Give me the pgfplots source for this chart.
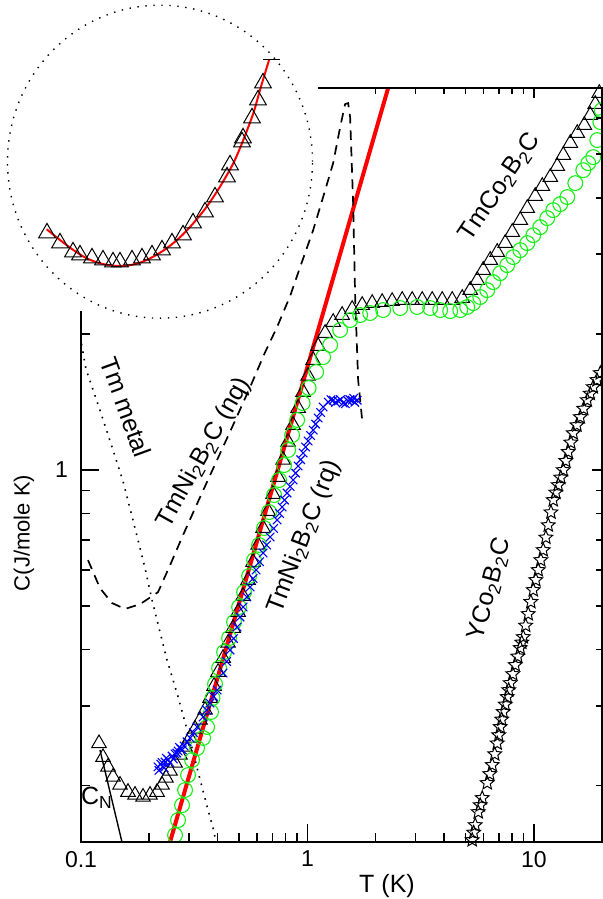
\documentclass[border=0pt]{standalone}
\usepackage{fontspec}
\setmainfont{Liberation Sans}
\usepackage{pgfplots}
\pgfplotsset{compat=1.18}
\definecolor{mygreen}{RGB}{20,240,20}
\pgfdeclareplotmark{ostar}{%
\pgfpathmoveto{\pgfpointpolar{90}{\pgfplotmarksize}}%
\pgfpathlineto{\pgfpointpolar{126}{0.45\pgfplotmarksize}}%
\pgfpathlineto{\pgfpointpolar{162}{\pgfplotmarksize}}%
\pgfpathlineto{\pgfpointpolar{198}{0.45\pgfplotmarksize}}%
\pgfpathlineto{\pgfpointpolar{234}{\pgfplotmarksize}}%
\pgfpathlineto{\pgfpointpolar{270}{0.45\pgfplotmarksize}}%
\pgfpathlineto{\pgfpointpolar{306}{\pgfplotmarksize}}%
\pgfpathlineto{\pgfpointpolar{342}{0.45\pgfplotmarksize}}%
\pgfpathlineto{\pgfpointpolar{18}{\pgfplotmarksize}}%
\pgfpathlineto{\pgfpointpolar{54}{0.45\pgfplotmarksize}}%
\pgfpathclose
\pgfusepathqstroke}
\begin{document}
\begin{tikzpicture}[font=\fontsize{12.5}{15}\selectfont]
% ---------- main axis with data ----------
\begin{axis}[at={(40.5pt,28.5pt)}, anchor=south west, scale only axis,
  width=260.5pt, height=377pt,
  xmode=log, ymode=log, xmin=0.1, xmax=20, ymin=0.15, ymax=7,
  xtick={0.1,1,10}, xticklabels={0.1,1,10},
  minor xtick={0.2,0.3,0.4,0.5,0.6,0.7,0.8,0.9,2,3,4,5,6,7,8,9},
  ytick={1}, yticklabels={1},
  minor ytick={0.2,0.3,0.4,0.5,0.6,0.7,0.8,0.9,2},
  xtick pos=left, ytick pos=left,
  major tick length=9pt, minor tick length=4.75pt,
  tick style={black, line width=0.8pt},
  axis line style={line width=0.9pt},
  tick label style={font=\fontsize{11.5}{14}\selectfont},
  xticklabel style={yshift=-1pt}, yticklabel style={xshift=-3pt},
  clip=true]
% TmCo2B2C triangles
\addplot[only marks, mark=triangle, mark size=4.2pt, mark options={black, line width=0.5pt}] coordinates {
(0.1201,0.248) (0.1251,0.231) (0.1316,0.220) (0.1385,0.209) (0.1487,0.2006) (0.1613,0.1935) (0.1732,0.1906) (0.1879,0.1887) (0.2018,0.1906) (0.2167,0.1935) (0.2280,0.2006) (0.2374,0.2079) (0.2474,0.2154) (0.2603,0.2244) (0.2738,0.2337) (0.2881,0.2435) (0.3032,0.2549) (0.3190,0.2668) (0.3357,0.2793) (0.3532,0.2939) (0.3716,0.3124) (0.3870,0.3321) (0.4031,0.3567) (0.4242,0.3831) (0.4463,0.4136) (0.4696,0.4463) (0.4941,0.4842) (0.5199,0.5253) (0.5470,0.5700) (0.5756,0.6248) (0.6056,0.6815) (0.6372,0.7430) (0.6705,0.8102) (0.7054,0.8834) (0.7422,0.9635) (0.7809,1.051) (0.8217,1.152) (0.8646,1.256) (0.9097,1.369) (0.9572,1.486) (1.007,1.613) (1.060,1.749) (1.115,1.878) (1.197,2.007) (1.299,2.123) (1.423,2.200) (1.576,2.268) (1.745,2.315) (1.932,2.338) (2.138,2.350) (2.367,2.362) (2.621,2.375) (2.901,2.375) (3.213,2.375) (3.557,2.375) (3.938,2.375) (4.359,2.375) (4.827,2.399) (5.236,2.498) (5.623,2.629) (5.976,2.767) (6.417,2.912) (6.890,3.033) (7.475,3.175) (8.027,3.358) (8.709,3.569) (9.352,3.793) (10.14,4.034) (10.90,4.245) (11.82,4.443) (12.69,4.699) (13.49,4.971) (14.49,5.286) (15.55,5.561) (16.71,5.793) (17.76,6.094) (18.68,6.446) (19.45,6.818)
};
% TmNi2B2C (nq) green circles
\addplot[only marks, mark=o, mark size=3.7pt, mark options={mygreen, line width=0.55pt}] coordinates {
(0.2603,0.1554) (0.2683,0.1677) (0.2795,0.1810) (0.2881,0.1955) (0.2971,0.2110) (0.3094,0.2278) (0.3256,0.2421) (0.3461,0.2549) (0.3604,0.2696) (0.3754,0.2910) (0.3811,0.3124) (0.3909,0.3356) (0.4072,0.3641) (0.4285,0.3950) (0.4508,0.4242) (0.4743,0.4602) (0.4991,0.4968) (0.5251,0.5361) (0.5526,0.5818) (0.5814,0.631) (0.6117,0.6815) (0.6437,0.7430) (0.6772,0.8061) (0.7125,0.8790) (0.7497,0.949) (0.7888,1.024) (0.8216,1.106) (0.8559,1.193) (0.9007,1.289) (0.9526,1.405) (1.013,1.517) (1.093,1.646) (1.173,1.776) (1.260,1.888) (1.395,2.038) (1.544,2.144) (1.710,2.200) (1.893,2.223) (2.160,2.257) (2.569,2.280) (3.053,2.292) (3.485,2.280) (3.859,2.257) (4.272,2.245) (4.730,2.257) (5.078,2.292) (5.397,2.338) (5.797,2.412) (6.225,2.498) (6.617,2.602) (7.104,2.724) (7.628,2.838) (8.110,2.956) (8.709,3.063) (9.352,3.175) (9.940,3.306) (10.67,3.444) (11.46,3.606) (12.18,3.756) (13.08,3.873) (14.05,4.014) (15.24,4.310) (16.53,4.604) (17.39,4.772) (18.30,4.921) (19.06,5.367) (19.66,5.883) (19.95,6.252)
};
% TmNi2B2C (rq) blue crosses
\addplot[only marks, mark=x, mark size=3pt, mark options={blue, line width=0.55pt}] coordinates {
(0.2189,0.220) (0.2210,0.2160) (0.2250,0.2230) (0.2280,0.2250) (0.2300,0.2200) (0.2330,0.2190) (0.2350,0.2255) (0.2380,0.2300) (0.2420,0.2280) (0.2470,0.2250) (0.2524,0.2325) (0.2560,0.2290) (0.2600,0.2350) (0.2650,0.2360) (0.2683,0.2385) (0.2720,0.2430) (0.2760,0.2410) (0.2800,0.2400) (0.2852,0.2447) (0.2940,0.2500) (0.3032,0.2549) (0.3140,0.2620) (0.3256,0.2696) (0.3461,0.2837) (0.3590,0.2940) (0.3716,0.3045) (0.3850,0.3150) (0.3990,0.3255) (0.4242,0.3549) (0.4395,0.3763) (0.4554,0.3990) (0.4720,0.4230) (0.4891,0.4485) (0.5043,0.4720) (0.5199,0.4968) (0.5400,0.5230) (0.5582,0.5501) (0.5755,0.5745) (0.5934,0.5999) (0.6150,0.6260) (0.6372,0.6541) (0.6603,0.6814) (0.6842,0.7098) (0.7091,0.7412) (0.7348,0.7740) (0.7537,0.8001) (0.7730,0.8270) (0.7929,0.8569) (0.8133,0.8879) (0.8386,0.918) (0.8646,0.949) (0.8869,0.983) (0.9097,1.019) (0.9332,1.053) (0.9572,1.089) (0.9818,1.123) (1.007,1.158) (1.033,1.191) (1.060,1.224) (1.087,1.262) (1.115,1.302) (1.144,1.339) (1.173,1.377) (1.235,1.412) (1.270,1.430) (1.299,1.426) (1.330,1.410) (1.367,1.419) (1.400,1.430) (1.438,1.405) (1.470,1.400) (1.513,1.419) (1.540,1.430) (1.576,1.426) (1.600,1.440) (1.620,1.410) (1.658,1.426)
};
% YCo2B2C stars
\addplot[only marks, mark=ostar, mark size=3.6pt, mark options={black, line width=0.5pt}] coordinates {
(5.343,0.1515) (5.425,0.1574) (5.509,0.1635) (5.680,0.1747) (5.797,0.181) (5.916,0.1877) (6.225,0.2026) (6.385,0.2121) (6.550,0.2221) (6.718,0.2347) (6.890,0.248) (6.996,0.2586) (7.104,0.2696) (7.213,0.2801) (7.324,0.2910) (7.474,0.3023) (7.628,0.3141) (7.746,0.3254) (7.866,0.3372) (8.070,0.3530) (8.276,0.3697) (8.490,0.3861) (8.709,0.4032) (8.844,0.4146) (8.981,0.4263) (9.200,0.4520) (9.447,0.4794) (9.700,0.5100) (9.940,0.5418) (10.20,0.5701) (10.46,0.5999) (10.73,0.6312) (11.00,0.6642) (11.30,0.7080) (11.58,0.754) (11.90,0.8050) (12.18,0.8571) (12.50,0.8904) (12.82,0.9249) (13.15,0.961) (13.49,0.9984) (13.84,1.046) (14.19,1.095) (14.56,1.149) (14.93,1.205) (15.50,1.255) (16.04,1.308) (16.60,1.365) (17.22,1.426) (17.75,1.474) (18.30,1.524) (19.00,1.580) (19.66,1.637)
};
% red fit line
\addplot[red, line width=2pt] coordinates {(0.2473,0.15) (2.273,7)};
% C_N
\addplot[black, line width=0.7pt] coordinates {(0.1213,0.2397) (0.1517,0.15)};
% dashed TmNi2B2C (nq) curve
\addplot[black, line width=0.85pt, dash pattern=on 4.8pt off 3.4pt] coordinates {
(0.1074,0.631) (0.1213,0.547) (0.1371,0.507) (0.1564,0.492) (0.1823,0.504) (0.2189,0.536) (0.2474,0.615) (0.2823,0.717) (0.3357,0.870) (0.3990,1.051) (0.4696,1.256) (0.5582,1.524) (0.6504,1.821) (0.7348,2.070) (0.8386,2.424) (0.9286,2.810) (1.060,3.391) (1.173,4.014) (1.299,4.772) (1.395,5.733) (1.467,6.446) (1.513,6.48) (1.544,6.03) (1.592,3.89) (1.625,2.41) (1.675,1.580) (1.745,1.289)
};
% Tm metal dotted
\addplot[black, line width=0.8pt, dash pattern=on 0.8pt off 3pt] coordinates {
(0.1005,1.90) (0.1052,1.670) (0.1213,1.355) (0.1371,1.123) (0.1533,0.944) (0.1732,0.743) (0.1918,0.606) (0.2059,0.515) (0.2234,0.437) (0.2399,0.379) (0.2657,0.320) (0.2881,0.276) (0.3094,0.242) (0.3357,0.206) (0.3604,0.180) (0.3831,0.161) (0.3950,0.150)
};
\end{axis}
% ---------- top/right ticks ----------
\begin{axis}[at={(40.5pt,28.5pt)}, anchor=south west, scale only axis,
  width=260.5pt, height=377pt,
  xmode=log, ymode=log, xmin=0.1, xmax=20, ymin=0.15, ymax=7,
  xtick={10}, xticklabels={},
  minor xtick={2,3,4,5,6,7,8,9},
  ytick={1}, yticklabels={},
  minor ytick={0.2,0.3,0.4,0.5,0.6,0.7,0.8,0.9,2,3,4,5,6},
  xtick pos=right, ytick pos=right,
  major tick length=5.25pt, minor tick length=3pt,
  tick style={black, line width=0.8pt},
  axis line style={line width=0.9pt}]
\end{axis}
% hide frame behind the inset
\fill[white] (38.5pt,294pt) rectangle (42.5pt,407.5pt);
\fill[white] (38.5pt,403.5pt) rectangle (159pt,407.5pt);
% ---------- inset ----------
\begin{axis}[at={(0pt,289.5pt)}, anchor=south west, scale only axis,
  width=160pt, height=160pt, xmin=0, xmax=320, ymin=0, ymax=320,
  hide axis, clip=false]
\addplot[only marks, mark=triangle, mark size=4.8pt, mark options={black, line width=0.5pt}] coordinates {
(47,87) (60,77) (73,68) (80,65) (92,62) (103,60) (113,58) (120,58) (132,60) (142,62) (152,65) (162,70) (172,77) (183,85) (193,97) (205,108) (215,123) (227,143) (230,155) (242,178) (243,182) (252,202) (258,220) (263,237)
};
\addplot[red, line width=1pt, smooth] coordinates {
(46.7,90.7) (60,80) (73.3,70) (86.7,61.7) (100,56.7) (113.3,54.3) (126.7,54.3) (140,57.3) (153.3,63.3) (166.7,71.7) (180,82.7) (193.3,96.7) (206.7,113.3) (220,133.3) (233.3,156.7) (243.3,180) (253.3,206.7) (260,230) (265,246.7) (269.3,260.7)
};
\addplot[black, line width=0.6pt] coordinates {(263,260.7) (280,260.7)};
\end{axis}
\draw[line width=0.7pt, dash pattern=on 0.7pt off 3.3pt] (80pt,368.65pt) ellipse [x radius=76.25pt, y radius=78.25pt];
% ---------- labels ----------
\node at (193.5pt,6.5pt) {T (K)};
\node[rotate=90, font=\fontsize{11}{13}\selectfont] at (12pt,183pt) {C(J/mole K)};
\node[rotate=56] at (250pt,356pt) {TmCo\textsubscript{2}B\textsubscript{2}C};
\node[rotate=61] at (102pt,223pt) {TmNi\textsubscript{2}B\textsubscript{2}C (nq)};
\node[rotate=69] at (152pt,181pt) {TmNi\textsubscript{2}B\textsubscript{2}C (rq)};
\node[rotate=-70] at (63pt,246pt) {Tm metal};
\node[rotate=75] at (245pt,155pt) {YCo\textsubscript{2}B\textsubscript{2}C};
\node at (48.5pt,50.5pt) {C\textsubscript{N}};
\pgfresetboundingbox
\useasboundingbox (0,0) rectangle (301.5pt,449.5pt);
\end{tikzpicture}
\end{document}
